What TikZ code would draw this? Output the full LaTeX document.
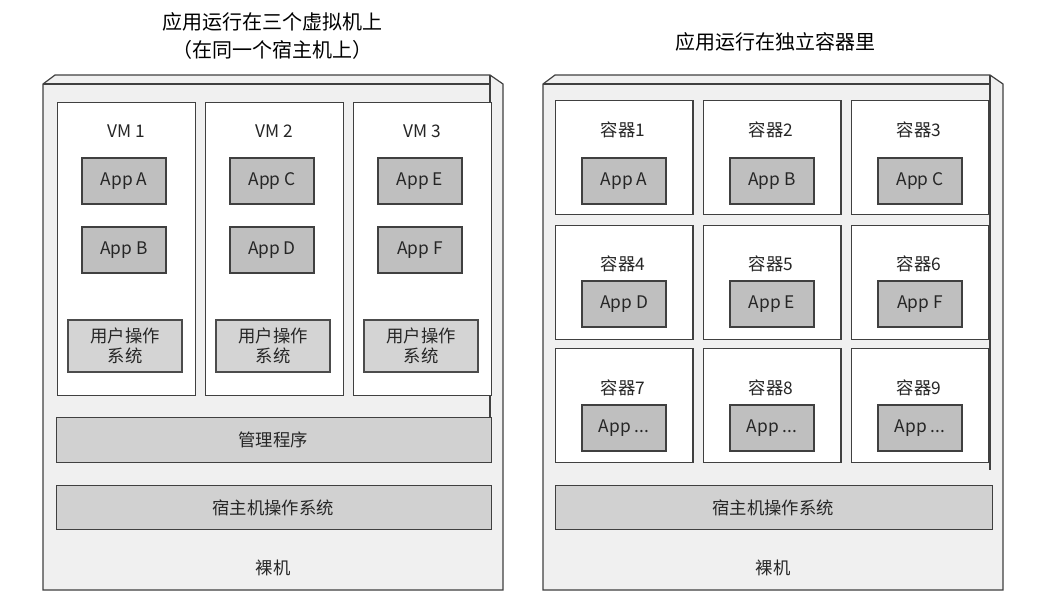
\documentclass[tikz,border=0pt]{standalone}
\usepackage{fontspec}
\setmainfont{Noto Sans CJK SC}
\newcommand\appdots{...}
\begin{document}
\begin{tikzpicture}[x=0.75pt,y=-0.75pt,
  every node/.style={font=\fontsize{13}{14.5}\selectfont, text=black!85, inner sep=0pt},
  frame/.style={draw=black!75, line width=0.9pt, fill=black!6},
  vm/.style={draw=black!75, line width=0.9pt, fill=white, anchor=north west},
  app/.style={draw=black!75, line width=0.9pt, fill=black!25, minimum width=63pt, minimum height=34.5pt},
  os/.style={draw=black!70, line width=0.9pt, fill=black!17, align=center, minimum width=85.5pt, minimum height=39pt},
  layer/.style={draw=black!75, line width=0.9pt, fill=black!18, anchor=north west},
  ttl/.style={font=\fontsize{15}{18}\selectfont, text=black}]
\useasboundingbox (0,0) rectangle (1042,611);
% left frame
\draw[frame] (43,590) -- (43,84) -- (55,75) -- (490,75) -- (503,84) -- (503,590) -- cycle;
\draw[black!75, line width=0.9pt] (43,84) -- (490,84) -- (490,420);
\draw[black!75, line width=0.9pt] (490,75) -- (490,84);
% right frame
\draw[frame] (543,590) -- (543,84) -- (555,75) -- (990,75) -- (1003,84) -- (1003,590) -- cycle;
\draw[black!75, line width=0.9pt] (543,84) -- (990,84) -- (990,470);
\draw[black!75, line width=0.9pt] (990,75) -- (990,84);
% titles
\node[ttl] (t1) at (272,22) {应用运行在三个虚拟机上};
\node[ttl] (t2) at (272,50) {（在同一个宿主机上）};
\node[ttl] (t3) at (775,42) {应用运行在独立容器里};
% VMs
\foreach \i/\x/\a/\b in {1/57/A/B,2/205/C/D,3/353/E/F}{
  \node[vm, minimum width=103.5pt, minimum height=219.75pt] (vm\i) at (\x,102) {};
  \node (vml\i) at (\x+69,131) {VM \i};
  \node[app] (app\a) at (\x+67,181) {App \a};
  \node[app] (app\b) at (\x+67,250) {App \b};
  \node[os] (os\i) at (\x+68,346) {用户操作\\系统};
}
\node[layer, minimum width=326pt, minimum height=33.75pt] (hyp) at (56,417) {};
\node (hypl) at (273,440) {管理程序};
\node[layer, minimum width=326pt, minimum height=33pt] (host1) at (56,485) {};
\node (host1l) at (273,508) {宿主机操作系统};
\node (bare1) at (273,568) {裸机};
% containers
\foreach \r/\y in {0/100,1/225,2/348}{
  \foreach \c/\x in {0/555,1/703,2/851}{
    \pgfmathtruncatemacro{\n}{3*\r+\c+1}
    \node[vm, minimum width=103pt, minimum height=85.5pt] (c\n) at (\x,\y) {};
  }
}
\foreach \n/\x/\y/\ay/\t in {1/623/130/181/A,2/771/130/181/B,3/919/130/181/C,4/623/264/304/D,5/771/264/304/E,6/919/264/304/F,7/623/388/428/\appdots,8/771/388/428/\appdots,9/919/388/428/\appdots}{
  \node (cl\n) at (\x,\y) {容器\n};
  \node[app] (ca\n) at (\x+1,\ay) {App \t};
}
\node[layer, minimum width=327.75pt, minimum height=33pt] (host2) at (555,485) {};
\node (host2l) at (773,508) {宿主机操作系统};
\node (bare2) at (773,568) {裸机};
\end{tikzpicture}
\end{document}
